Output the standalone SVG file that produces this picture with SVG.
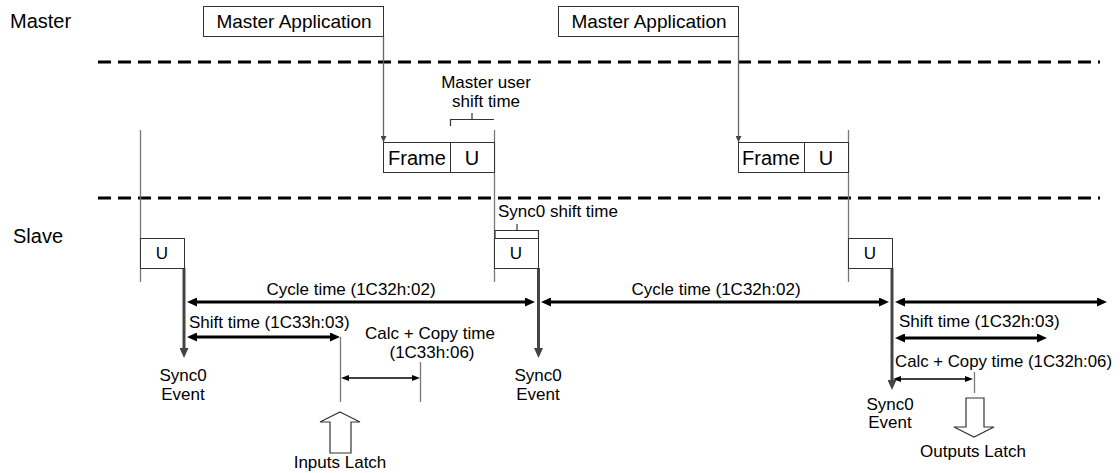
<svg xmlns="http://www.w3.org/2000/svg" width="1120" height="473" viewBox="0 0 1120 473">
<style>
text{font-family:"Liberation Sans",Arial,sans-serif;fill:#000}
.lbl{font-size:20px}
.box{fill:#fff;stroke:#333;stroke-width:1}
.bt{font-size:19px;text-anchor:middle}
.ft{font-size:20px;text-anchor:middle}
.ut{font-size:17px;text-anchor:middle}
.t{font-size:17px}
.tc{font-size:17px;text-anchor:middle}
.dash{stroke:#000;stroke-width:3;stroke-dasharray:13 7;fill:none}
.thin{stroke:#777;stroke-width:1.3;fill:none}
.sync{stroke:#444;stroke-width:3;fill:none;marker-end:url(#gh)}
.arr{stroke:#000;stroke-width:3;fill:none;marker-start:url(#bh);marker-end:url(#bh)}
.arrs{stroke:#000;stroke-width:1.3;fill:none;marker-start:url(#sh);marker-end:url(#sh)}
.brk{stroke:#333;stroke-width:1.2;fill:none}
.big{fill:#fff;stroke:#333;stroke-width:1.2}
</style>
<defs>
<marker id="bh" markerUnits="userSpaceOnUse" viewBox="0 0 10 9" refX="4" refY="4.5" markerWidth="10" markerHeight="9" orient="auto-start-reverse"><path d="M0,0 L10,4.5 L0,9 z" fill="#000"/></marker>
<marker id="sh" markerUnits="userSpaceOnUse" viewBox="0 0 8 6" refX="3" refY="3" markerWidth="8" markerHeight="6" orient="auto-start-reverse"><path d="M0,0 L8,3 L0,6 z" fill="#000"/></marker>
<marker id="gh" markerUnits="userSpaceOnUse" viewBox="0 0 9 10" refX="4.5" refY="4" markerWidth="9" markerHeight="10" orient="0"><path d="M0,0 L9,0 L4.5,10 z" fill="#444"/></marker>
<marker id="mh" markerUnits="userSpaceOnUse" viewBox="0 0 6 6" refX="3" refY="6" markerWidth="6" markerHeight="6" orient="0"><path d="M0,0 L6,0 L3,6 z" fill="#444"/></marker>
</defs>

<g id="labels">
<text class="lbl" x="10" y="28">Master</text>
<text class="lbl" x="13" y="243">Slave</text>
</g>

<g id="separators">
<line class="dash" x1="98" y1="62" x2="1100" y2="62"/>
<line class="dash" x1="98" y1="198" x2="1100" y2="198"/>
</g>

<g id="connectors">
<!-- master application to frame -->
<line x1="383.5" y1="36" x2="383.5" y2="142" stroke="#666" stroke-width="1.3" marker-end="url(#mh)"/>
<line x1="738.5" y1="36" x2="738.5" y2="142" stroke="#666" stroke-width="1.3" marker-end="url(#mh)"/>
<!-- vertical time lines -->
<line class="thin" x1="140.5" y1="130" x2="140.5" y2="282"/>
<line class="thin" x1="494.5" y1="130" x2="494.5" y2="282"/>
<line class="thin" x1="848.5" y1="130" x2="848.5" y2="282"/>
<line class="thin" x1="340.5" y1="337" x2="340.5" y2="402"/>
<line class="thin" x1="420.5" y1="362" x2="420.5" y2="402"/>
<line class="thin" x1="974.5" y1="372" x2="974.5" y2="393"/>
<!-- sync0 events -->
<line class="sync" x1="184" y1="268" x2="184" y2="352"/>
<line class="sync" x1="538.5" y1="268" x2="538.5" y2="352"/>
<line class="sync" x1="892" y1="268" x2="892" y2="384"/>
<!-- cycle time arrows -->
<line class="arr" x1="193" y1="302" x2="529" y2="302"/>
<line class="arr" x1="547" y1="302" x2="883" y2="302"/>
<line class="arr" x1="901" y1="302" x2="1101" y2="302"/>
<!-- shift time arrows -->
<line class="arr" x1="193" y1="337" x2="334" y2="337"/>
<line class="arr" x1="901" y1="338" x2="1041" y2="338"/>
<!-- calc + copy arrows -->
<line class="arrs" x1="346" y1="378" x2="415" y2="378"/>
<line class="arrs" x1="898" y1="379" x2="968" y2="379"/>
<!-- brackets -->
<path class="brk" d="M450.5,126 V119.5 H494"/>
<line class="brk" x1="472" y1="113" x2="472" y2="119.5"/>
<path class="brk" d="M495,238 V230.5 H538.5 V238"/>
<line class="brk" x1="517" y1="224" x2="517" y2="230.5"/>
</g>

<g id="master-app-1">
<rect class="box" x="203.5" y="6.5" width="180" height="30"/>
<text class="bt" x="294" y="28">Master Application</text>
</g>
<g id="master-app-2">
<rect class="box" x="558.5" y="6.5" width="180" height="30"/>
<text class="bt" x="649" y="28">Master Application</text>
</g>

<g id="frame-1">
<rect class="box" x="383.5" y="142.5" width="111" height="30"/>
<line x1="450.5" y1="142.5" x2="450.5" y2="172.5" stroke="#333"/>
<text class="ft" x="417" y="165">Frame</text>
<text class="ft" x="472" y="165">U</text>
</g>
<g id="frame-2">
<rect class="box" x="738.5" y="142.5" width="110" height="30"/>
<line x1="804.5" y1="142.5" x2="804.5" y2="172.5" stroke="#333"/>
<text class="ft" x="771" y="165">Frame</text>
<text class="ft" x="826" y="165">U</text>
</g>

<g id="master-user-shift">
<text class="tc" x="486" y="88">Master user</text>
<text class="tc" x="486" y="107">shift time</text>
</g>

<g id="slave-u-1">
<rect class="box" x="140.5" y="238.5" width="44" height="30"/>
<text class="ut" x="162" y="259">U</text>
</g>
<g id="slave-u-2">
<rect class="box" x="494.5" y="238.5" width="44" height="30"/>
<text class="ut" x="516" y="259">U</text>
</g>
<g id="slave-u-3">
<rect class="box" x="848.5" y="238.5" width="44" height="30"/>
<text class="ut" x="870" y="259">U</text>
</g>

<g id="sync0-shift">
<text class="t" x="498" y="217">Sync0 shift time</text>
</g>

<g id="timing-labels">
<text class="tc" x="351" y="295">Cycle time (1C32h:02)</text>
<text class="tc" x="716" y="295">Cycle time (1C32h:02)</text>
<text class="t" x="189" y="328">Shift time (1C33h:03)</text>
<text class="tc" x="430" y="339">Calc + Copy time</text>
<text class="tc" x="432" y="358">(1C33h:06)</text>
<text class="t" x="899" y="327">Shift time (1C32h:03)</text>
<text class="t" x="895" y="367" textLength="217" lengthAdjust="spacingAndGlyphs">Calc + Copy time (1C32h:06)</text>
</g>

<g id="sync0-event-1">
<text class="tc" x="183" y="381">Sync0</text>
<text class="tc" x="183" y="400">Event</text>
</g>
<g id="sync0-event-2">
<text class="tc" x="538" y="381">Sync0</text>
<text class="tc" x="538" y="400">Event</text>
</g>
<g id="sync0-event-3">
<text class="tc" x="890" y="410">Sync0</text>
<text class="tc" x="890" y="428">Event</text>
</g>

<g id="inputs-latch">
<polygon class="big" points="340,412 360,422 351,422 351,453 330,453 330,422 320,422"/>
<text class="tc" x="340" y="468">Inputs Latch</text>
</g>
<g id="outputs-latch">
<polygon class="big" points="966,398 984,398 984,427 994,427 974,437 954,427 966,427"/>
<text class="tc" x="973" y="457">Outputs Latch</text>
</g>
</svg>
